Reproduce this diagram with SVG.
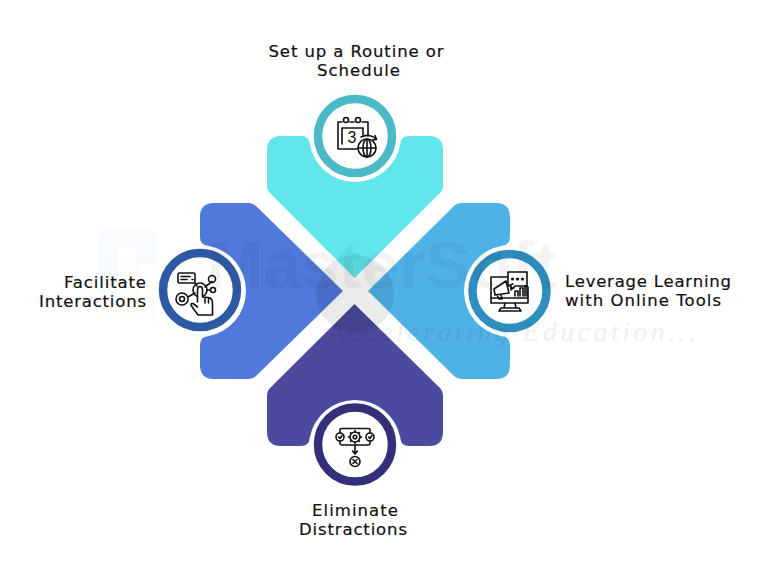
<svg xmlns="http://www.w3.org/2000/svg" width="764" height="584" viewBox="0 0 764 584">
<style>
.lbl{font-family:"DejaVu Sans","Liberation Sans",sans-serif;font-size:16.500px;fill:#111;stroke:#111;stroke-width:.2}
.ring{fill:#fff;stroke-width:8.5}
.ic{fill:none;stroke:#111;stroke-width:1.600;stroke-linecap:round;stroke-linejoin:round}
.icw{fill:#fff;stroke:#111;stroke-width:1.600;stroke-linecap:round;stroke-linejoin:round}
.dot{fill:#111}
</style>
<rect width="764" height="584" fill="#fff"/>
<g id="watermark-back" opacity="0.03">
<path d="M98 292V240q0-12 12-12h34q12 0 12 12v24h-20v-16h-18v44z" fill="#4aa8e0"/>
<path d="M120 318V262h20v36h16v20z" fill="#d9d060"/>
</g>
<g id="node-top">
<path d="M267 150Q267 136 281 136H301Q309 136 309.700 144A46 46 0 0 0 400.300 144Q401 136 409 136H429Q443 136 443 150V186Q443 190 440 193L354.500 278L270 193Q267 190 267 186Z" fill="#61e6ec"/>
<circle class="ring" cx="355" cy="136" r="37" stroke="#4bb9c6"/>
<g>
<path class="ic" d="M342 122H338V149H357M350 122H354M362 122H368V136"/>
<circle class="ic" cx="346" cy="120" r="2.500"/><circle class="ic" cx="358" cy="120" r="2.500"/>
<path class="ic" d="M342 144V128H363V135"/>
<text x="352" y="143" text-anchor="middle" font-family="Liberation Sans,sans-serif" font-size="16" fill="#111">3</text>
<circle class="icw" cx="367" cy="148" r="9"/><ellipse class="ic" cx="367" cy="148" rx="4" ry="9"/>
<path class="ic" d="M358 148H376M367 139V157"/>
<path class="ic" d="M361 137A12.500 12.500 0 0 1 376 139M375 135.500L376.500 139.500L372.500 140"/>
</g>
<text class="lbl" x="356" y="57" text-anchor="middle" textLength="175" lengthAdjust="spacing">Set up a Routine or</text>
<text class="lbl" x="358.500" y="76" text-anchor="middle" textLength="83" lengthAdjust="spacing">Schedule</text>
</g>
<g id="node-left">
<path d="M214 203H249Q253 203 256 206L343 291L256 376Q253 379 249 379H214Q200 379 200 365V345Q200 337 208 336.300A46 46 0 0 0 208 245.700Q200 245 200 237V217Q200 203 214 203Z" fill="#5178db"/>
<circle class="ring" cx="200" cy="290" r="37" stroke="#2e5aa5"/>
<g>
<rect class="ic" x="178" y="273" width="17" height="10" rx="1.500"/>
<path class="ic" d="M181 276.500H190M181 279.500H187M192 279.500H193M195 283L197 286M212 281.500L205 287M210 290H207M188 297L195 293"/>
<circle class="ic" cx="212" cy="279" r="3.500"/><circle class="ic" cx="213" cy="290" r="2.500"/>
<circle class="ic" cx="182" cy="299" r="6"/><circle class="ic" cx="182" cy="299" r="2.500"/>
<circle class="ic" cx="200" cy="290" r="7"/>
<path class="icw" d="M197.500 302V290Q197.500 286.500 200 286.500Q202.500 286.500 202.500 290V297L208 297.500Q212.500 298 212.500 303V315H198L191.500 306Q190 303 193 303.500L197.500 307"/>
<path class="ic" d="M205 298V303M208.500 298V303"/>
</g>
<text class="lbl" x="105" y="288" text-anchor="middle" textLength="82" lengthAdjust="spacing">Facilitate</text>
<text class="lbl" x="92.500" y="307" text-anchor="middle" textLength="107" lengthAdjust="spacing">Interactions</text>
</g>
<g id="node-right">
<path d="M496 203H461Q457 203 454 206L368 291L454 376Q457 379 461 379H496Q510 379 510 365V345Q510 337 502 336.300A46 46 0 0 1 502 245.700Q510 245 510 237V217Q510 203 496 203Z" fill="#4fb2e6"/>
<circle class="ring" cx="509.500" cy="291" r="37" stroke="#2f8ec0"/>
<g>
<path class="ic" d="M507 277H491V303H528V287M491 298H528M505 303L504 308H516L515 303M499 311H521L519 308H501Z"/>
<path class="icw" d="M508 272H527V286H515L511 290V286H508Z"/>
<circle class="dot" cx="512.500" cy="279" r="1.600"/><circle class="dot" cx="517.500" cy="279" r="1.600"/><circle class="dot" cx="522.500" cy="279" r="1.600"/>
<path class="ic" d="M494 289L506 281L509 293L495 295ZM497 295L499 299H502L501 294.500M510 285L513 284M511 288H514"/>
<path class="ic" d="M515 296V291H518V296M520 296V288H523V296M525 296V286H527V296"/>
</g>
<text class="lbl" x="648" y="287" text-anchor="middle" textLength="166" lengthAdjust="spacing">Leverage Learning</text>
<text class="lbl" x="643" y="306" text-anchor="middle" textLength="156" lengthAdjust="spacing">with Online Tools</text>
</g>
<g id="node-bottom">
<path d="M267 432Q267 446 281 446H301Q309 446 309.700 438A46 46 0 0 1 400.300 438Q401 446 409 446H429Q443 446 443 432V395Q443 391 440 388L354.500 304L270 388Q267 391 267 395Z" fill="#4b4a9e"/>
<circle class="ring" cx="355" cy="444.500" r="37" stroke="#332f78"/>
<g>
<path class="ic" d="M340 433V430Q340 428.500 342 428.500H368Q370 428.500 370 430V433M340 441V443Q340 445 342 445H368Q370 445 370 443V441M355 445V453M352.500 451L355 454L357.500 451"/>
<circle class="ic" cx="340" cy="437" r="4"/><circle class="ic" cx="370" cy="437" r="4"/>
<path class="ic" d="M338.500 437L340 438.500L342 435.500M368.500 437L370 438.500L372 435.500"/>
<circle class="ic" cx="355" cy="437" r="5"/><circle class="ic" cx="355" cy="437" r="1.800"/>
<path class="ic" d="M355 430.500V432M355 442V443.500M348.500 437H350M360 437H361.500M350.500 432.500L351.500 433.500M359.500 432.500L358.500 433.500M350.500 441.500L351.500 440.500M359.500 441.500L358.500 440.500"/>
<circle class="ic" cx="355" cy="461.500" r="5"/><path class="ic" d="M353 459.500L357 463.500M357 459.500L353 463.500"/>
</g>
<text class="lbl" x="355" y="516" text-anchor="middle" textLength="86" lengthAdjust="spacing">Eliminate</text>
<text class="lbl" x="353" y="535" text-anchor="middle" textLength="108" lengthAdjust="spacing">Distractions</text>
</g>
<g id="watermark-front">
<circle cx="355" cy="294" r="39" fill="#000" opacity="0.08"/>
<text x="207" y="288" font-family="Liberation Sans,sans-serif" font-weight="700" font-size="66" textLength="350" lengthAdjust="spacingAndGlyphs" fill="#000" opacity="0.04">MasterSoft</text>
<text x="328" y="341" font-family="Liberation Serif,serif" font-style="italic" font-size="28" textLength="368" lengthAdjust="spacing" fill="#000" opacity="0.06">Accelerating Education...</text>
</g>
</svg>
